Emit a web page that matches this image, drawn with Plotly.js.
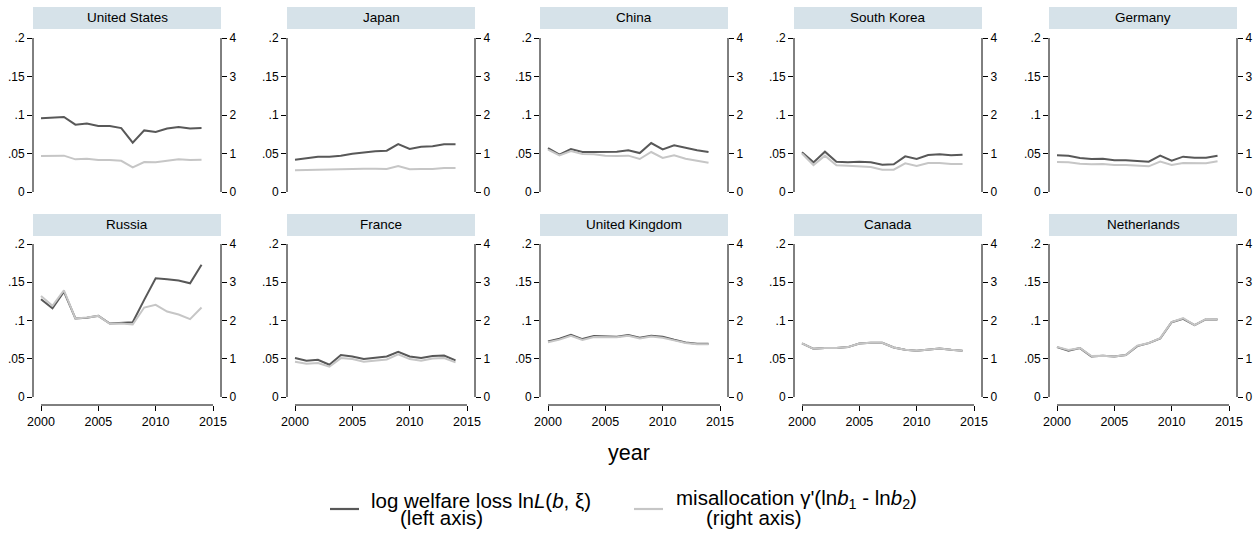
<!DOCTYPE html>
<html>
<head>
<meta charset="utf-8">
<script src="https://cdn.plot.ly/plotly-3.0.1.min.js"></script>
<style>html,body{margin:0;padding:0;background:#fff;overflow:hidden;}#chart{width:1260px;height:535px;}</style>
</head>
<body>
<div id="chart"></div>
<script>
// ---------- data ----------
const years = [2000,2001,2002,2003,2004,2005,2006,2007,2008,2009,2010,2011,2012,2013,2014];
const countries = ["United States","Japan","China","South Korea","Germany","Russia","France","United Kingdom","Canada","Netherlands"];

// log welfare loss (left axis)
const welfareUS = [0.0957,0.0965,0.0974,0.0874,0.0890,0.0857,0.0857,0.0830,0.0640,0.0800,0.0780,0.0824,0.0844,0.0826,0.0830];
const welfareJP = [0.0420,0.0437,0.0459,0.0459,0.0472,0.0498,0.0515,0.0528,0.0537,0.0623,0.0558,0.0589,0.0593,0.0619,0.0619];
const welfareCN = [0.0571,0.0485,0.0558,0.0519,0.0519,0.0519,0.0524,0.0541,0.0506,0.0636,0.0554,0.0606,0.0570,0.0541,0.0519];
const welfareKR = [0.0515,0.0385,0.0524,0.0394,0.0385,0.0394,0.0385,0.0355,0.0359,0.0463,0.0429,0.0480,0.0489,0.0476,0.0485];
const welfareDE = [0.0476,0.0472,0.0442,0.0429,0.0433,0.0411,0.0411,0.0407,0.0394,0.0472,0.0407,0.0459,0.0446,0.0446,0.0472];
const welfareRU = [0.1278,0.1160,0.1378,0.1026,0.1035,0.1061,0.0961,0.0970,0.0978,0.1270,0.1552,0.1539,0.1522,0.1487,0.1730];
const welfareFR = [0.0509,0.0474,0.0487,0.0422,0.0548,0.0530,0.0496,0.0509,0.0530,0.0591,0.0530,0.0509,0.0535,0.0543,0.0478];
const welfareUK = [0.0726,0.0761,0.0813,0.0757,0.0796,0.0787,0.0787,0.0809,0.0774,0.0800,0.0787,0.0748,0.0713,0.0696,0.0696];
const welfareCA = [0.0700,0.0630,0.0639,0.0639,0.0652,0.0700,0.0709,0.0709,0.0648,0.0617,0.0604,0.0617,0.0635,0.0617,0.0604];
const welfareNL = [0.0652,0.0604,0.0639,0.0530,0.0539,0.0530,0.0548,0.0665,0.0704,0.0765,0.0978,0.1022,0.0939,0.1017,0.1013];

// misallocation (right axis)
const misallocUS = [0.935,0.935,0.944,0.848,0.866,0.830,0.830,0.810,0.640,0.780,0.770,0.810,0.850,0.830,0.840];
const misallocJP = [0.563,0.572,0.589,0.589,0.597,0.606,0.606,0.606,0.597,0.675,0.589,0.597,0.597,0.623,0.623];
const misallocCN = [1.100,0.952,1.065,0.987,0.978,0.944,0.935,0.944,0.857,1.039,0.883,0.952,0.866,0.814,0.762];
const misallocKR = [1.000,0.700,0.944,0.693,0.684,0.675,0.649,0.580,0.580,0.745,0.675,0.753,0.753,0.727,0.727];
const misallocDE = [0.779,0.771,0.736,0.719,0.727,0.701,0.701,0.693,0.667,0.788,0.701,0.753,0.745,0.745,0.797];
const misallocRU = [2.643,2.383,2.790,2.052,2.078,2.120,1.913,1.922,1.896,2.339,2.409,2.235,2.157,2.035,2.339];
const misallocFR = [0.922,0.870,0.887,0.791,1.017,0.991,0.922,0.948,0.983,1.113,0.991,0.948,1.009,1.017,0.904];
const misallocUK = [1.430,1.500,1.600,1.490,1.570,1.560,1.560,1.600,1.530,1.580,1.550,1.480,1.410,1.380,1.380];
const misallocCA = [1.400,1.260,1.278,1.278,1.304,1.400,1.418,1.418,1.296,1.234,1.208,1.234,1.270,1.234,1.208];
const misallocNL = [1.310,1.230,1.280,1.070,1.080,1.060,1.100,1.340,1.410,1.540,1.960,2.060,1.880,2.040,2.030];

const welfareSeries = [welfareUS,welfareJP,welfareCN,welfareKR,welfareDE,welfareRU,welfareFR,welfareUK,welfareCA,welfareNL];
const misallocSeries = [misallocUS,misallocJP,misallocCN,misallocKR,misallocDE,misallocRU,misallocFR,misallocUK,misallocCA,misallocNL];

const leftTicks = [0,0.05,0.1,0.15,0.2];
const leftTickText = ["0",".05",".1",".15",".2"];
const rightTicks = [0,1,2,3,4];
const xTicks = [2000,2005,2010,2015];

const legendWelfare = ["log welfare loss ln<i>L</i>(<i>b</i>, ξ)", "(left axis)"];
const legendMisalloc = ["misallocation γ'(ln<i>b</i><sub>1</sub> - ln<i>b</i><sub>2</sub>)", "(right axis)"];

// ---------- layout geometry (pixels) ----------
const W = 1260, H = 535;
const colLeft = [33, 287, 540, 794, 1049];
const panelW = 188;
const rowTop = [38, 244];        // y pixel of value .2
const rowZero = [192, 397];      // y pixel of value 0
const rowBottom = [200, 405];    // bottom of domain (x axis line)
const stripTop = [7, 214], stripH = 22;

const darkColor = "#585858", lightColor = "#c6c6c6";
const fontFam = "Liberation Sans, Arial, Helvetica, sans-serif";

const traces = [];
const layout = {
  width: W, height: H,
  margin: {l:0, r:0, t:0, b:0, autoexpand: false},
  paper_bgcolor: "#fff", plot_bgcolor: "rgba(0,0,0,0)",
  font: {family: fontFam, size: 12, color: "#000"},
  showlegend: false,
  shapes: [], annotations: []
};

for (let i = 0; i < 10; i++) {
  const row = Math.floor(i / 5), col = i % 5;
  const xi = i + 1, yl = 2*i + 1, yr = 2*i + 2;
  const xName = "xaxis" + (xi === 1 ? "" : xi);
  const ylName = "yaxis" + (yl === 1 ? "" : yl);
  const yrName = "yaxis" + yr;
  const xRef = "x" + (xi === 1 ? "" : xi);
  const ylRef = "y" + (yl === 1 ? "" : yl);
  const yrRef = "y" + yr;

  const left = colLeft[col];
  const pxPerYear = (panelW - 16) / 15;
  const span = rowZero[row] - rowTop[row];
  const extra = rowBottom[row] - rowZero[row];

  layout[xName] = {
    domain: [left / W, (left + panelW) / W],
    range: [2000 - 8 / pxPerYear, 2015 + 8 / pxPerYear],
    anchor: ylRef, showgrid: false, zeroline: false, showline: false,
    tickvals: xTicks, ticktext: xTicks.map(String),
    ticks: row === 1 ? "outside" : "", ticklen: 5, tickwidth: 1, tickcolor: "#000",
    showticklabels: row === 1, tickfont: {size: 12.5, family: fontFam},
    fixedrange: true
  };
  const yDom = [1 - rowBottom[row] / H, 1 - rowTop[row] / H];
  layout[ylName] = {
    domain: yDom, anchor: xRef,
    range: [-0.2 * extra / span, 0.2],
    showgrid: false, zeroline: false, showline: false,
    tickvals: leftTicks, ticktext: leftTickText,
    ticks: "outside", ticklen: 5, tickwidth: 1, tickcolor: "#000",
    tickfont: {size: 12, family: fontFam}, fixedrange: true
  };
  layout[yrName] = {
    overlaying: ylRef, side: "right", anchor: xRef,
    range: [-4 * extra / span, 4],
    showgrid: false, zeroline: false, showline: false,
    tickvals: rightTicks, ticktext: rightTicks.map(String),
    ticks: "outside", ticklen: 5, tickwidth: 1, tickcolor: "#000",
    tickfont: {size: 12, family: fontFam}, fixedrange: true
  };

  // light series (right axis) first, dark on top
  traces.push({
    type: "scatter", mode: "lines", x: years, y: misallocSeries[i],
    xaxis: xRef, yaxis: yrRef, name: "misallocation (right axis)",
    showlegend: false, line: {color: lightColor, width: 2}, hoverinfo: "skip"
  });
  traces.push({
    type: "scatter", mode: "lines", x: years, y: welfareSeries[i],
    xaxis: xRef, yaxis: ylRef, name: "log welfare loss (left axis)",
    showlegend: false, line: {color: darkColor, width: 2}, hoverinfo: "skip"
  });

  // axis lines
  layout.shapes.push({type: "line", xref: xRef + " domain", yref: ylRef, x0: 0, x1: 0, y0: 0, y1: 0.2,
    line: {color: "#000", width: 1}});
  layout.shapes.push({type: "line", xref: xRef + " domain", yref: yrRef, x0: 1, x1: 1, y0: 0, y1: 4,
    line: {color: "#000", width: 1}});
  if (row === 1) {
    layout.shapes.push({type: "line", xref: xRef, yref: ylRef + " domain", x0: 2000, x1: 2015, y0: 0, y1: 0,
      line: {color: "#000", width: 1}});
  }
  // strip
  layout.shapes.push({type: "rect", xref: "paper", yref: "paper",
    x0: left / W, x1: (left + panelW) / W,
    y0: 1 - (stripTop[row] + stripH) / H, y1: 1 - stripTop[row] / H,
    fillcolor: "#d6e2e9", line: {width: 0}, layer: "below"});
  layout.annotations.push({xref: "paper", yref: "paper",
    x: (left + panelW / 2) / W, y: 1 - (stripTop[row] + stripH / 2) / H,
    xanchor: "center", yanchor: "middle", showarrow: false,
    text: countries[i], font: {family: fontFam, size: 13.5, color: "#000"}});
}

// x axis title
layout.annotations.push({xref: "paper", yref: "paper", x: 629 / W, y: 1 - 453 / H,
  xanchor: "center", yanchor: "middle", showarrow: false, text: "year",
  font: {family: fontFam, size: 21.5, color: "#000"}});

// legend (key samples + text)
function legendEntry(x0, color, lines, textX, line2X, y1, y2) {
  layout.shapes.push({type: "line", xref: "paper", yref: "paper",
    x0: x0 / W, x1: (x0 + 29) / W, y0: 1 - 509 / H, y1: 1 - 509 / H,
    line: {color: color, width: 2.2}});
  layout.annotations.push({xref: "paper", yref: "paper", x: textX / W, y: 1 - y1 / H,
    xanchor: "left", yanchor: "middle", showarrow: false, text: lines[0],
    font: {family: fontFam, size: 20.5, color: "#000"}});
  layout.annotations.push({xref: "paper", yref: "paper", x: line2X / W, y: 1 - y2 / H,
    xanchor: "left", yanchor: "middle", showarrow: false, text: lines[1],
    font: {family: fontFam, size: 20.5, color: "#000"}});
}
legendEntry(330, darkColor, legendWelfare, 369, 398, 500, 517);
legendEntry(634, lightColor, legendMisalloc, 674, 704, 499, 517);

Plotly.newPlot("chart", traces, layout, {staticPlot: true, displayModeBar: false});
</script>
</body>
</html>
